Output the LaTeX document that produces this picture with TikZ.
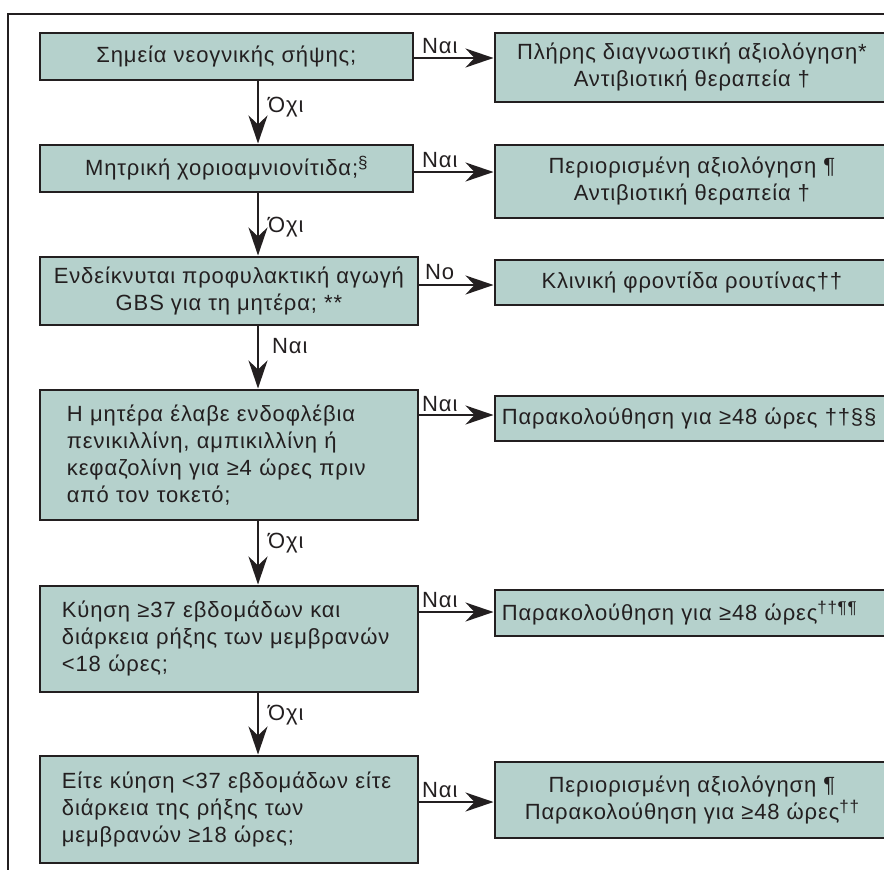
\documentclass[tikz,border=0pt]{standalone}
\usepackage{fontspec}
\setmainfont[LetterSpace=4]{Liberation Sans}
\usetikzlibrary{arrows.meta}
\definecolor{boxfill}{HTML}{B5D1CC}
\definecolor{ink}{HTML}{231F20}
\newcommand\supmark[1]{\raisebox{7pt}{\fontsize{17}{17}\selectfont #1}}
\begin{document}
\begin{tikzpicture}[x=1pt,y=-1pt,
  box/.style={draw=ink, line width=2.8pt, fill=boxfill, text=ink,
    font=\fontsize{22}{27}\selectfont, inner sep=0pt, anchor=north west},
  cbox/.style={box, align=center},
  lbox/.style={box, align=left},
  arr/.style={draw=ink, line width=2.4pt, -{Stealth[length=28pt,width=19pt,inset=9pt]}},
  lab/.style={text=ink, font=\fontsize{22}{25}\selectfont, inner sep=0pt, anchor=base west},
  frame/.style={draw=ink, line width=2pt}]
\useasboundingbox (0,0) rectangle (884,870);
\fill[white] (0,0) rectangle (884,870);
\draw[frame] (8,880) -- (8,14) -- (890,14);

% left column
\node[cbox, minimum width=373pt, minimum height=47pt] (b1) at (38.5,31.5) {Σημεία νεογνικής σήψης;};
\node[cbox, minimum width=373pt, minimum height=47pt] (b2) at (38.5,143.5) {Μητρική χοριοαμνιονίτιδα;\supmark{§}};
\node[cbox, minimum width=378pt, minimum height=68pt] (b3) at (38.5,255.5) {Ενδείκνυται προφυλακτική αγωγή\\GBS για τη μητέρα; **};
\node[lbox, inner xsep=27pt, text width=324pt, minimum height=130pt] (b4) at (38.5,388.5) {Η μητέρα έλαβε ενδοφλέβια\\πενικιλλίνη, αμπικιλλίνη ή\\κεφαζολίνη για ≥4 ώρες πριν\\από τον τοκετό;};
\node[lbox, inner xsep=22pt, text width=334pt, minimum height=106pt] (b5) at (38.5,584.5) {Κύηση ≥37 εβδομάδων και\\διάρκεια ρήξης των μεμβρανών\\<18 ώρες;};
\node[lbox, inner xsep=22pt, text width=334pt, minimum height=107pt] (b6) at (38.5,754.5) {Είτε κύηση <37 εβδομάδων είτε\\διάρκεια της ρήξης των\\μεμβρανών ≥18 ώρες;};

% right column
\node[cbox, minimum width=394pt, minimum height=69pt] (r1) at (493.5,31.5) {Πλήρης διαγνωστική αξιολόγηση*\\Αντιβιοτική θεραπεία †};
\node[cbox, minimum width=394pt, minimum height=73pt] (r2) at (493.5,143.5) {Περιορισμένη αξιολόγηση ¶\\Αντιβιοτική θεραπεία †};
\node[cbox, minimum width=394pt, minimum height=45pt] (r3) at (493.5,258.5) {Κλινική φροντίδα ρουτίνας††};
\node[lbox, inner xsep=7pt, text width=380pt, minimum height=45pt] (r4) at (493.5,394.5) {Παρακολούθηση για ≥48 ώρες ††§§};
\node[lbox, inner xsep=7pt, text width=380pt, minimum height=46pt] (r5) at (493.5,588.5) {Παρακολούθηση για ≥48 ώρες\supmark{††¶¶}};
\node[cbox, minimum width=394pt, minimum height=76pt] (r6) at (493.5,760.5) {Περιορισμένη αξιολόγηση ¶\\Παρακολούθηση για ≥48 ώρες\supmark{††}};

% helper coordinates
\coordinate (ax) at (258,0);
\coordinate (h1) at (0,58);
\coordinate (h2) at (0,172);
\coordinate (h3) at (0,285);
\coordinate (h4) at (0,415);
\coordinate (h5) at (0,612);
\coordinate (h6) at (0,802);

% vertical arrows
\draw[arr] (b1.south -| ax) -- (b2.north -| ax);
\draw[arr] (b2.south -| ax) -- (b3.north -| ax);
\draw[arr] (b3.south -| ax) -- (b4.north -| ax);
\draw[arr] (b4.south -| ax) -- (b5.north -| ax);
\draw[arr] (b5.south -| ax) -- (b6.north -| ax);
\node[lab] (v1) at (268,112) {Όχι};
\node[lab] (v2) at (268,232) {Όχι};
\node[lab] (v3) at (272,353) {Ναι};
\node[lab] (v4) at (268,548) {Όχι};
\node[lab] (v5) at (268,720) {Όχι};

% horizontal arrows
\draw[arr] (b1.east |- h1) -- (r1.west |- h1);
\draw[arr] (b2.east |- h2) -- (r2.west |- h2);
\draw[arr] (b3.east |- h3) -- (r3.west |- h3);
\draw[arr] (b4.east |- h4) -- (r4.west |- h4);
\draw[arr] (b5.east |- h5) -- (r5.west |- h5);
\draw[arr] (b6.east |- h6) -- (r6.west |- h6);
\node[lab] (n1) at (422,53) {Ναι};
\node[lab] (n2) at (422,167) {Ναι};
\node[lab] (n3) at (425,279) {No};
\node[lab] (n4) at (422,411) {Ναι};
\node[lab] (n5) at (422,607) {Ναι};
\node[lab] (n6) at (422,797) {Ναι};
\end{tikzpicture}
\end{document}
